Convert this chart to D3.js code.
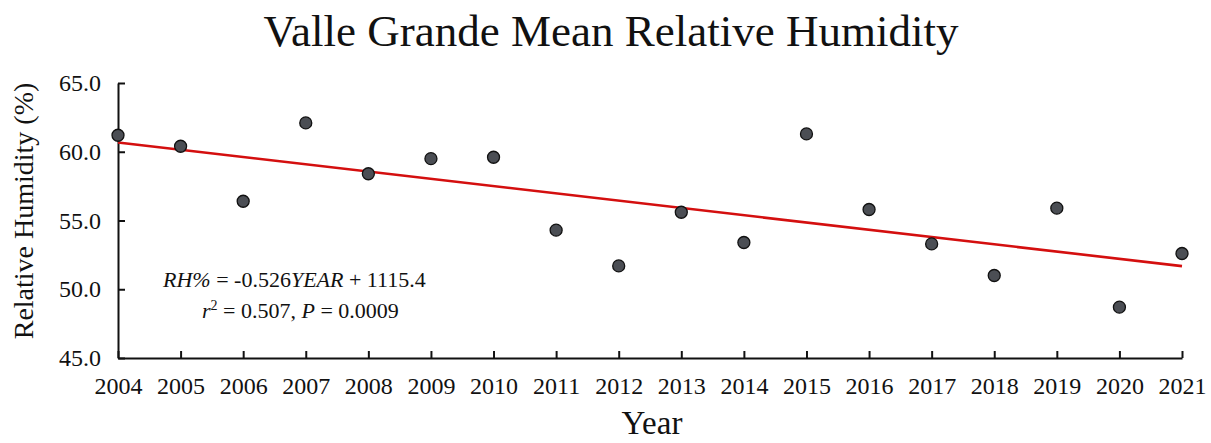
<!DOCTYPE html>
<html><head><meta charset="utf-8">
<script src="https://cdn.jsdelivr.net/npm/d3@7"></script>
<style>body{margin:0;background:#fff}svg{display:block}text{font-family:"Liberation Serif","Times New Roman",serif;fill:#111}</style>
</head><body>
<svg id="c" width="1211" height="443"></svg>
<script>
const years = [2004,2005,2006,2007,2008,2009,2010,2011,2012,2013,2014,2015,2016,2017,2018,2019,2020,2021];
const rh = [61.2,60.4,56.4,62.1,58.4,59.5,59.6,54.3,51.7,55.6,53.4,61.3,55.8,53.3,51.0,55.9,48.7,52.6];
const yTicks = [45,50,55,60,65];

const svg = d3.select("#c");
const x = d3.scaleLinear().domain([2004,2021]).range([118,1182]);
const y = d3.scaleLinear().domain([45,65]).range([358,83]);

// regression
const mx = d3.mean(years), my = d3.mean(rh);
const slope = d3.sum(years.map((v,i)=>(v-mx)*(rh[i]-my))) / d3.sum(years.map(v=>(v-mx)**2));
const icpt = my - slope*mx;

// axes
const gx = svg.append("g").attr("transform","translate(0,358)")
  .call(d3.axisBottom(x).tickValues(years).tickFormat(d3.format("d")).tickSizeInner(-7).tickSizeOuter(0).tickPadding(19));
const gy = svg.append("g").attr("transform","translate(118,0)")
  .call(d3.axisLeft(y).tickValues(yTicks).tickFormat(d3.format(".1f")).tickSizeInner(-7).tickSizeOuter(0).tickPadding(17));
[gx,gy].forEach(g=>{
  g.select(".domain").attr("stroke","#111").attr("stroke-width",2);
  g.selectAll(".tick line").attr("stroke","#111").attr("stroke-width",2);
  g.selectAll(".tick text").attr("font-family","Liberation Serif").attr("font-size",24).attr("fill","#111");
});

// trend line
svg.append("line")
  .attr("x1",x(2004)).attr("y1",y(slope*2004+icpt))
  .attr("x2",x(2021)).attr("y2",y(slope*2021+icpt))
  .attr("stroke","#d40f0f").attr("stroke-width",2.6);

// points
svg.append("g").selectAll("circle").data(years).join("circle")
  .attr("cx",d=>x(d)).attr("cy",(d,i)=>y(rh[i])).attr("r",6)
  .attr("fill","#4b4e54").attr("stroke","#111").attr("stroke-width",1.3);

// title
svg.append("text").attr("x",611).attr("y",46).attr("text-anchor","middle")
  .attr("font-size",45).text("Valle Grande Mean Relative Humidity");
// y title
svg.append("text").attr("transform","translate(33,211) rotate(-90)").attr("text-anchor","middle")
  .attr("font-size",28).text("Relative Humidity (%)");
// x title
svg.append("text").attr("x",652).attr("y",434).attr("text-anchor","middle")
  .attr("font-size",33).text("Year");

// equation
const eq = svg.append("text").attr("x",163).attr("y",287).attr("font-size",22);
eq.append("tspan").attr("font-style","italic").text("RH%");
eq.append("tspan").text(" = -0.526");
eq.append("tspan").attr("font-style","italic").text("YEAR");
eq.append("tspan").text(" + 1115.4");
const eq2 = svg.append("text").attr("x",202).attr("y",318).attr("font-size",22);
eq2.append("tspan").attr("font-style","italic").text("r");
eq2.append("tspan").attr("font-size",14).attr("dy",-8).text("2");
eq2.append("tspan").attr("dy",8).text(" = 0.507, ");
eq2.append("tspan").attr("font-style","italic").text("P");
eq2.append("tspan").text(" = 0.0009");
</script>
</body></html>
